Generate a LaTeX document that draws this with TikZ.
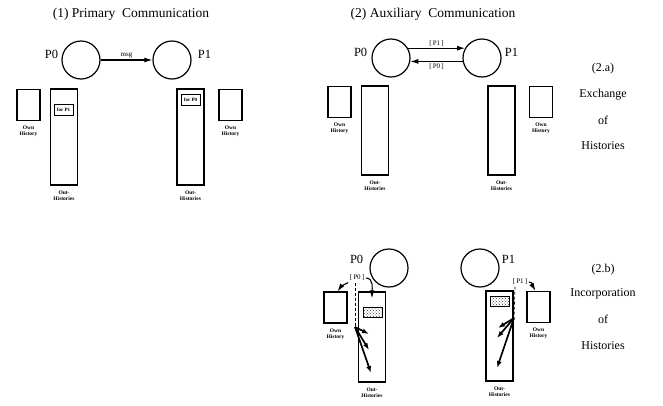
\documentclass[tikz,border=0pt]{standalone}
\usepackage{fontspec}
\setmainfont{Liberation Serif}
\usetikzlibrary{arrows.meta,positioning,patterns}

\begin{document}
\begin{tikzpicture}[
  x=1pt, y=1pt,
  proc/.style={circle, draw, line width=1.2pt, minimum size=38pt, inner sep=0pt},
  ownbox/.style={draw, line width=1.2pt, minimum width=23pt, minimum height=31pt, inner sep=0pt},
  outbox/.style={draw, line width=1.2pt, minimum width=27pt, minimum height=#1, inner sep=0pt},
  outbox/.default=90pt,
  tagbox/.style={draw, line width=1pt, minimum width=19pt, minimum height=11pt,
    inner sep=0pt, font=\fontsize{5}{5.5}\selectfont\bfseries},
  stipple/.style={draw, line width=1pt, minimum width=19pt, minimum height=10pt,
    inner sep=0pt, pattern=crosshatch dots, pattern color=black!75},
  tinylbl/.style={font=\fontsize{5.5}{6}\selectfont\bfseries, align=center, inner sep=0pt},
  pname/.style={font=\fontsize{12.5}{14}\selectfont, inner sep=0pt},
  head/.style={font=\fontsize{13.5}{15}\selectfont},
  side/.style={font=\fontsize{12}{14}\selectfont},
  msgl/.style={font=\fontsize{7}{8}\selectfont, inner sep=1.5pt},
  arr/.style={-{Latex[length=8pt, width=5pt]}, line width=1.1pt},
  fan/.style={-{Latex[length=7pt, width=5pt]}, line width=1.7pt},
  thread/.style={densely dashed, line width=0.7pt}
]
  \useasboundingbox (0,0) rectangle (663,-405);

  % (1) primary communication
  \node[head] (t1) at (131,-14) {(1) Primary\ \ Communication};
  \node[proc] (a0) at (81,-60) {};
  \node[proc] (a1) at (172,-60) {};
  \node[pname, anchor=east] (a0n) at ([xshift=-3pt, yshift=6pt]a0.west) {P0};
  \node[pname, anchor=west] (a1n) at ([xshift=6pt, yshift=6pt]a1.east) {P1};
  \draw[arr] (a0) -- node[msgl, above] {msg} (a1);

  \node[ownbox] (h0) at (28.5,-105) {};
  \node[outbox=96pt] (o0) at (64,-137) {};
  \node[tagbox] (f0) at (63.5,-110) {for P1};
  \node[outbox=96pt] (o1) at (190.5,-137) {};
  \node[tagbox] (f1) at (190.5,-100) {for P0};
  \node[ownbox] (h1) at (230.5,-105) {};
  \node[tinylbl, below=5pt of h0] (h0l) {Own\\History};
  \node[tinylbl, below=5pt of o0] (o0l) {Out-\\Histories};
  \node[tinylbl, below=5pt of o1] (o1l) {Out-\\Histories};
  \node[tinylbl, below=5pt of h1] (h1l) {Own\\History};

  % (2.a) exchange of histories
  \node[head] (t2) at (433,-14) {(2) Auxiliary\ \ Communication};
  \node[proc] (q0) at (391,-58) {};
  \node[proc] (q1) at (482,-58) {};
  \node[pname, anchor=east] (q0n) at ([xshift=-4pt, yshift=6pt]q0.west) {P0};
  \node[pname, anchor=west] (q1n) at ([xshift=3pt, yshift=6pt]q1.east) {P1};
  \draw[arr] (q0.30) -- node[msgl, above] {[\,P1\,]} (q1.150);
  \draw[arr] (q1.190) -- node[msgl, below] {[\,P0\,]} (q0.-10);

  \node[ownbox] (g0) at (339.5,-102) {};
  \node[outbox=89pt] (u0) at (375,-130.5) {};
  \node[outbox=89pt] (u1) at (501.5,-130.5) {};
  \node[ownbox] (g1) at (541,-102) {};
  \node[tinylbl, below=5pt of g0] (g0l) {Own\\History};
  \node[tinylbl, below=5pt of u0] (u0l) {Out-\\Histories};
  \node[tinylbl, below=5pt of u1] (u1l) {Out-\\Histories};
  \node[tinylbl, below=5pt of g1] (g1l) {Own\\History};

  \node[side] (s2a) at (603,-69) {(2.a)};
  \node[side] (s2a1) at (603,-95) {Exchange};
  \node[side] (s2a2) at (603,-120) {of};
  \node[side] (s2a3) at (603,-146) {Histories};

  % (2.b) incorporation of histories
  \node[proc] (r0) at (389,-268) {};
  \node[proc] (r1) at (480,-268) {};
  \node[pname, anchor=east] (r0n) at ([xshift=-6pt, yshift=9pt]r0.west) {P0};
  \node[pname, anchor=west] (r1n) at ([xshift=2pt, yshift=9pt]r1.east) {P1};

  \node[ownbox] (e0) at (335.5,-307.5) {};
  \node[outbox] (v0) at (372,-337) {};
  \node[stipple] (d0) at (373,-312) {};
  \node[outbox] (v1) at (499.5,-336) {};
  \node[stipple] (d1) at (500,-301.5) {};
  \node[ownbox] (e1) at (538.5,-307) {};
  \node[tinylbl, below=5pt of e0] (e0l) {Own\\History};
  \node[tinylbl, below=5pt of v0] (v0l) {Out-\\Histories};
  \node[tinylbl, below=5pt of v1] (v1l) {Out-\\Histories};
  \node[tinylbl, below=5pt of e1] (e1l) {Own\\History};

  \node[msgl] (k0) at (357,-278) {[\,P0\,]};
  \node[msgl] (k1) at (520,-282) {[\,P1\,]};
  \coordinate (m0) at (355,-327);
  \coordinate (m1) at (514,-318);

  \draw[arr] (k0.south west) to[bend right=15] ([xshift=2pt]e0.north);
  \draw[arr] (k0.east) to[out=0, in=90] ([yshift=-7pt]v0.north);
  \draw[thread] ([xshift=-2pt]k0.south) -- (m0);
  \foreach \dx/\dy in {14/-7, 14/-23, 16/-46}
    \draw[fan] (m0) -- ++(\dx,\dy);

  \draw[arr] (k1.east) to[out=0, in=120] ([xshift=-3pt]e1.north);
  \draw[thread] ([xshift=-5pt]k1.south) -- (m1);
  \foreach \dx/\dy in {-16/-10, -17/-20, -17/-50}
    \draw[fan] (m1) -- ++(\dx,\dy);

  \node[side] (s2b) at (603,-270) {(2.b)};
  \node[side] (s2b1) at (603,-294) {Incorporation};
  \node[side] (s2b2) at (603,-319) {of};
  \node[side] (s2b3) at (603,-346) {Histories};
\end{tikzpicture}
\end{document}
